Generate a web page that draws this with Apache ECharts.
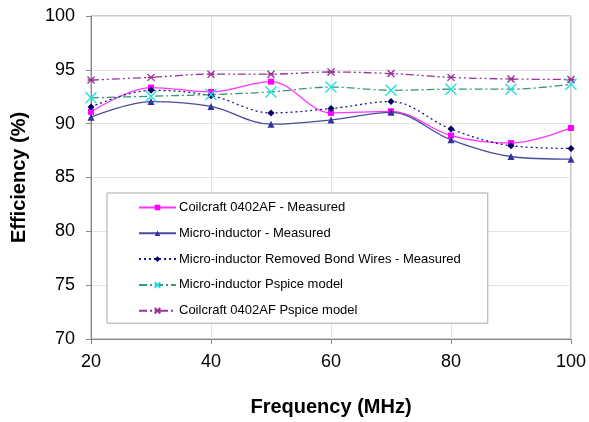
<!DOCTYPE html>
<html><head><meta charset="utf-8">
<script src="https://cdn.jsdelivr.net/npm/echarts@6/dist/echarts.min.js"></script>
<style>html,body{margin:0;padding:0;background:#fff}#c{width:589px;height:422px}</style>
</head><body><div id="c"></div>
<script>
const freq = [20, 30, 40, 50, 60, 70, 80, 90, 100];
const coilMeasured = [91.1, 93.35, 92.95, 93.9, 91.0, 91.15, 88.9, 88.2, 89.6];
const microMeasured = [90.6, 92.05, 91.6, 89.95, 90.35, 91.05, 88.5, 86.95, 86.7];
const microNoBond = [91.55, 93.1, 92.6, 91.0, 91.4, 92.05, 89.5, 87.95, 87.7];
const microPspice = [92.4, 92.55, 92.7, 92.95, 93.4, 93.1, 93.2, 93.2, 93.65];
const coilPspice = [94.05, 94.3, 94.6, 94.6, 94.8, 94.65, 94.3, 94.15, 94.1];
const names = ['Coilcraft 0402AF - Measured','Micro-inductor - Measured','Micro-inductor Removed Bond Wires - Measured','Micro-inductor Pspice model','Coilcraft 0402AF Pspice model'];
const yTicks = [70, 75, 80, 85, 90, 95, 100];
const xTicks = [20, 40, 60, 80, 100];

const pair = arr => freq.map((f, i) => [f, arr[i]]);
const chart = echarts.init(document.getElementById('c'), null, {renderer: 'canvas'});
const FONT = 'Liberation Sans';
const xPath = 'path://M0,0 L10,10 M10,0 L0,10';
const starPath = 'path://M0,0 L10,10 M10,0 L0,10 M0,5 L10,5';
function mk(name, data, lineColor, lineType, symbol, size, symColor, hollow) {
  return {
    name, type: 'line', data: pair(data), smooth: 0.35,
    symbol, symbolSize: size, showSymbol: true,
    lineStyle: {color: lineColor, width: 1.3, type: lineType},
    itemStyle: hollow ? {color: 'rgba(0,0,0,0)', borderColor: symColor, borderWidth: 1.4}
                      : {color: symColor, borderColor: symColor, borderWidth: 0},
    emphasis: {disabled: true}, z: 3
  };
}
chart.setOption({
  animation: false,
  backgroundColor: '#fff',
  textStyle: {fontFamily: FONT},
  grid: {left: 91, right: 18, top: 16, bottom: 83, show: true, borderColor: '#999', borderWidth: 1, backgroundColor: 'transparent'},
  xAxis: {
    type: 'value', min: 20, max: 100, interval: 20,
    name: 'Frequency (MHz)', nameLocation: 'middle', nameGap: 58,
    nameTextStyle: {fontSize: 20, fontWeight: 'bold', color: '#000', fontFamily: FONT},
    axisLine: {show: true, lineStyle: {color: '#888', width: 1}},
    axisTick: {show: true, length: 5, lineStyle: {color: '#888'}},
    axisLabel: {fontSize: 18, color: '#000', margin: 14, fontFamily: FONT},
    splitLine: {show: true, lineStyle: {color: '#e2e2e2', width: 1}}
  },
  yAxis: {
    type: 'value', min: 70, max: 100, interval: 5,
    name: 'Efficiency (%)', nameLocation: 'middle', nameGap: 62,
    nameTextStyle: {fontSize: 20, fontWeight: 'bold', color: '#000', fontFamily: FONT},
    axisLine: {show: true, lineStyle: {color: '#888', width: 1}},
    axisTick: {show: true, length: 5, lineStyle: {color: '#888'}},
    axisLabel: {fontSize: 18, color: '#000', margin: 16, fontFamily: FONT},
    splitLine: {show: true, lineStyle: {color: '#e2e2e2', width: 1}}
  },
  legend: {
    orient: 'vertical', left: 107, top: 193, width: 381,
    padding: [7, 27, 5, 31], itemGap: 10.8, itemWidth: 37, itemHeight: 7,
    backgroundColor: '#fff', borderColor: '#aaa', borderWidth: 1,
    textStyle: {fontSize: 13, color: '#000', fontFamily: FONT, padding: [0, 0, 0, -2], lineHeight: 15},
    data: names
  },
  series: [
    mk(names[0], coilMeasured, '#ff33ff', 'solid', 'rect', 6, '#ff00ff'),
    mk(names[1], microMeasured, '#4a4aa0', 'solid', 'triangle', 7, '#33339a'),
    mk(names[2], microNoBond, '#1a1a80', [2, 3], 'diamond', 7, '#000066'),
    mk(names[3], microPspice, '#339977', [8, 3, 2, 3], xPath, 11, '#22e0e0', true),
    mk(names[4], coilPspice, '#993399', [8, 3, 2, 3, 2, 3], starPath, 7, '#993399', true)
  ]
});
</script></body></html>
